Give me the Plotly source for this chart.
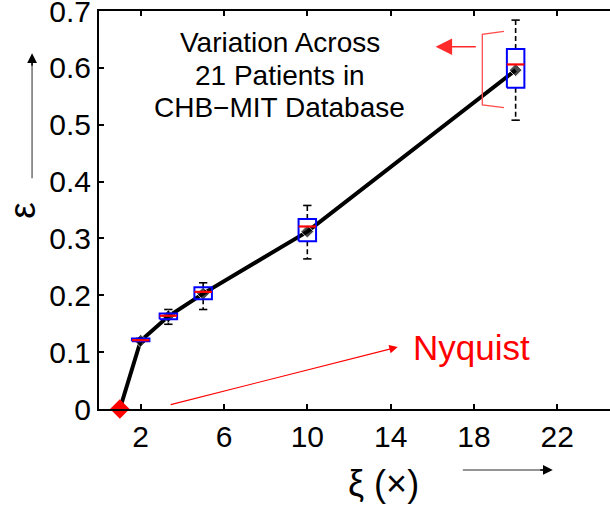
import plotly.graph_objects as go

# Compression factor (x) for each configuration
xi = [1, 2, 3.33, 5, 10, 20]
# Mean error across patients
eps_mean = [0.0, 0.12, 0.163, 0.203, 0.312, 0.596]
# Box statistics across 21 patients
q1 = [0.0, 0.119, 0.158, 0.193, 0.295, 0.565]
med = [0.0, 0.121, 0.164, 0.206, 0.321, 0.606]
q3 = [0.0, 0.124, 0.168, 0.214, 0.334, 0.633]
w_lo = [0.0, 0.118, 0.149, 0.175, 0.264, 0.508]
w_hi = [0.0, 0.125, 0.175, 0.222, 0.358, 0.684]

x_ticks = [2, 6, 10, 14, 18, 22]
y_ticks = [0, 0.1, 0.2, 0.3, 0.4, 0.5, 0.6, 0.7]

FONT = "Liberation Sans, Arial, sans-serif"
BOX_W = 0.84
CAP_W = 0.4

fig = go.Figure()

# dashed whiskers with end caps
wx, wy, cx, cy = [], [], [], []
for x, a, b, lo, hi in zip(xi, q1, q3, w_lo, w_hi):
    wx += [x, x, None, x, x, None]
    wy += [b, hi, None, a, lo, None]
    cx += [x - CAP_W / 2, x + CAP_W / 2, None, x - CAP_W / 2, x + CAP_W / 2, None]
    cy += [hi, hi, None, lo, lo, None]
fig.add_trace(go.Scatter(x=wx, y=wy, mode="lines",
                         line=dict(color="black", width=1.6, dash="5px,3px"),
                         hoverinfo="skip", showlegend=False))
fig.add_trace(go.Scatter(x=cx, y=cy, mode="lines",
                         line=dict(color="black", width=1.6),
                         hoverinfo="skip", showlegend=False))

# mean curve
fig.add_trace(go.Scatter(
    x=xi, y=eps_mean, mode="lines+markers",
    line=dict(color="black", width=4),
    marker=dict(symbol="diamond", size=[0] + [10] * (len(xi) - 1), color="black"),
    hoverinfo="skip", showlegend=False))

# boxes (interquartile range)
bx, by = [], []
for x, a, b in zip(xi, q1, q3):
    l, r = x - BOX_W / 2, x + BOX_W / 2
    bx += [l, r, r, l, l, None]
    by += [a, a, b, b, a, None]
fig.add_trace(go.Scatter(x=bx, y=by, mode="lines",
                         line=dict(color="#0000ff", width=2),
                         hoverinfo="skip", showlegend=False))

# medians
mx, my = [], []
for x, m in zip(xi, med):
    mx += [x - BOX_W / 2, x + BOX_W / 2, None]
    my += [m, m, None]
fig.add_trace(go.Scatter(x=mx, y=my, mode="lines",
                         line=dict(color="#ff0000", width=2.2),
                         hoverinfo="skip", showlegend=False))

# Nyquist-rate reference point
fig.add_trace(go.Scatter(x=[xi[0]], y=[eps_mean[0]], mode="markers",
                         marker=dict(symbol="diamond", size=15, color="#ff0000"),
                         cliponaxis=False, hoverinfo="skip", showlegend=False))

annotations = []
# description text, one line per annotation
for txt, yv in [("Variation Across", 0.644), ("21 Patients in", 0.587),
                ("CHB\u2212MIT Database", 0.531)]:
    annotations.append(dict(x=8.67, y=yv, xref="x", yref="y", text=txt,
                            showarrow=False, xanchor="center", yanchor="middle",
                            font=dict(family=FONT, size=28, color="black")))
# arrow pointing from the bracket towards the description
annotations.append(dict(x=16.16, y=0.637, ax=18.16, ay=0.637, xref="x", yref="y",
                        axref="x", ayref="y", text="", showarrow=True,
                        arrowhead=2, arrowsize=2.2, arrowwidth=1.5,
                        arrowcolor="#ff2a2a"))
# Nyquist label and arrow
annotations.append(dict(x=17.87, y=0.108, xref="x", yref="y", text="Nyquist",
                        showarrow=False, xanchor="center", yanchor="middle",
                        font=dict(family=FONT, size=35, color="#ff0000")))
annotations.append(dict(x=14.34, y=0.109, ax=3.37, ay=0.007, xref="x", yref="y",
                        axref="x", ayref="y", text="", showarrow=True,
                        arrowhead=2, arrowsize=1.4, arrowwidth=1.2,
                        arrowcolor="#ff0000"))
# axis titles
annotations.append(dict(x=-0.151, y=0.5, xref="paper", yref="paper", text="\u03b5",
                        showarrow=False, textangle=-90, xanchor="center", yanchor="middle",
                        font=dict(family=FONT, size=37, color="black")))
annotations.append(dict(x=0.5577, y=-0.188, xref="paper", yref="paper",
                        text="\u03be (\u00d7)", showarrow=False,
                        xanchor="center", yanchor="middle",
                        font=dict(family=FONT, size=36, color="black")))
# direction arrowheads
annotations.append(dict(x=-0.131, y=0.894, ax=0, ay=14, xref="paper", yref="paper",
                        text="", showarrow=True, arrowhead=2, arrowsize=1.3,
                        arrowwidth=1.5, arrowcolor="black"))
annotations.append(dict(x=0.888, y=-0.153, ax=-14, ay=0, xref="paper", yref="paper",
                        text="", showarrow=True, arrowhead=2, arrowsize=1.3,
                        arrowwidth=1.5, arrowcolor="black"))

shapes = [
    # bracket around the spread at the largest compression factor
    dict(type="path", xref="x", yref="y",
         path="M 19.44 0.664 L 18.4 0.659 L 18.4 0.535 L 19.44 0.530",
         line=dict(color="#ff4d4d", width=1.3)),
    # direction arrow shafts
    dict(type="line", xref="paper", yref="paper", x0=-0.131, x1=-0.131,
         y0=0.580, y1=0.87, line=dict(color="#707070", width=1.5)),
    dict(type="line", xref="paper", yref="paper", x0=0.712, x1=0.87,
         y0=-0.153, y1=-0.153, line=dict(color="#707070", width=1.5)),
]

fig.update_layout(
    width=610, height=505,
    margin=dict(l=99, r=0, t=11, b=96),
    paper_bgcolor="white", plot_bgcolor="white",
    font=dict(family=FONT, size=30, color="black"),
    showlegend=False,
    annotations=annotations,
    shapes=shapes,
    xaxis=dict(range=[0, 24.53], tickvals=x_ticks, ticktext=[str(v) for v in x_ticks],
               ticks="inside", ticklen=5, tickwidth=1.5, tickcolor="black",
               showline=True, linecolor="black", linewidth=2, mirror="ticks",
               showgrid=False, zeroline=False, ticklabeloverflow="allow",
               automargin=False, tickfont=dict(family=FONT, size=30)),
    yaxis=dict(range=[0, 0.7], tickvals=y_ticks,
               ticktext=["0", "0.1", "0.2", "0.3", "0.4", "0.5", "0.6", "0.7"],
               ticks="inside", ticklen=5, tickwidth=1.5, tickcolor="black",
               showline=True, linecolor="black", linewidth=2, mirror=False,
               showgrid=False, zeroline=False, ticklabeloverflow="allow",
               automargin=False, tickfont=dict(family=FONT, size=30)),
)

fig.write_html("out.html")
